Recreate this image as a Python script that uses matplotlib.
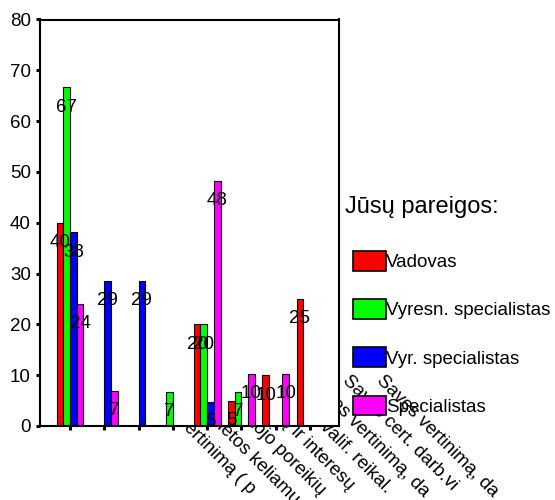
import numpy as np
import matplotlib
matplotlib.use('Agg')
import matplotlib.pyplot as plt
from matplotlib.patches import Patch
from matplotlib.transforms import ScaledTranslation

plt.rcParams['font.family'] = ['Liberation Sans', 'DejaVu Sans']

# Category labels (SPSS truncates them to ~19 characters)
categories = [
    'Savęs vertinimą ( p',
    'Darbo vietos keliamų',
    'Darbuotojo poreikių',
    'Poreikių ir interesų',
    'Darbo kvalif. reikal.',
    'Savęs vertinimą, da',
    'Savęs cert. darb.vi',
    'Savęs vertinimą, da',
]

# Percentages per group (Jūsų pareigos)
groups = ['Vadovas', 'Vyresn. specialistas', 'Vyr. specialistas', 'Specialistas']
vadovas = [40.0, 0, 0, 0, 20.0, 5.0, 10.0, 25.0]
vyresn_spec = [66.7, 0, 0, 6.7, 20.0, 6.7, 0, 0]
vyr_spec = [38.1, 28.6, 28.6, 0, 4.8, 0, 0, 0]
specialistas = [24.1, 6.9, 0, 0, 48.3, 10.3, 10.3, 0]

series = [vadovas, vyresn_spec, vyr_spec, specialistas]
colors = ['#ff0000', '#00ff00', '#0000ff', '#ff00ff']

fig = plt.figure(figsize=(5.55, 5.0), dpi=100)
ax = fig.add_axes([40 / 555, 74 / 500, 299 / 555, 406.5 / 500])

x = np.arange(len(categories))
w = 0.195
for k, (vals, col) in enumerate(zip(series, colors)):
    vals = np.array(vals, dtype=float)
    pos = x + (k - 1.5) * w
    mask = vals > 0
    ax.bar(pos[mask], vals[mask], width=w, color=col, edgecolor='black',
           linewidth=0.8, zorder=2)
    for xi, v in zip(pos[mask], vals[mask]):
        ax.annotate(f'{v:.0f}', (xi, v), xytext=(0, -20), textcoords='offset pixels',
                    ha='center', va='center', fontsize=13.5, zorder=3)

ax.set_xlim(-0.875, 7.845)
ax.set_ylim(0, 80)
ax.set_yticks(np.arange(0, 81, 10))
ax.set_xticks(x)
ax.set_xticklabels([])
ax.tick_params(axis='y', labelsize=13.5, length=3, width=2.2, pad=3.5, direction='out')
ax.tick_params(axis='x', length=3, width=2.2, direction='out')
for sp in ax.spines.values():
    sp.set_linewidth(1.5)

# rotated category labels, the part over the plot area is hidden by it
trans = ax.get_xaxis_transform() + ScaledTranslation(0.75, 0.54, fig.dpi_scale_trans)
for xi, lab in zip(x, categories):
    fig.text(xi, 0, lab, transform=trans, rotation=-45, rotation_mode='anchor',
             ha='left', va='top', fontsize=13.5, zorder=-1)

fig.text(345 / 555, 1 - 207 / 500, 'Jūsų pareigos:', fontsize=17, ha='left', va='center')
handles = [Patch(facecolor=c, edgecolor='black', linewidth=1.2) for c in colors]
fig.legend(handles, groups, loc='upper left', bbox_to_anchor=(353 / 555, 1 - 251 / 500),
           frameon=False, borderpad=0, borderaxespad=0, handlelength=1.76,
           handleheight=1.23, handletextpad=0.0, labelspacing=1.5, fontsize=13.5)

fig.savefig('out.png', dpi=100)
